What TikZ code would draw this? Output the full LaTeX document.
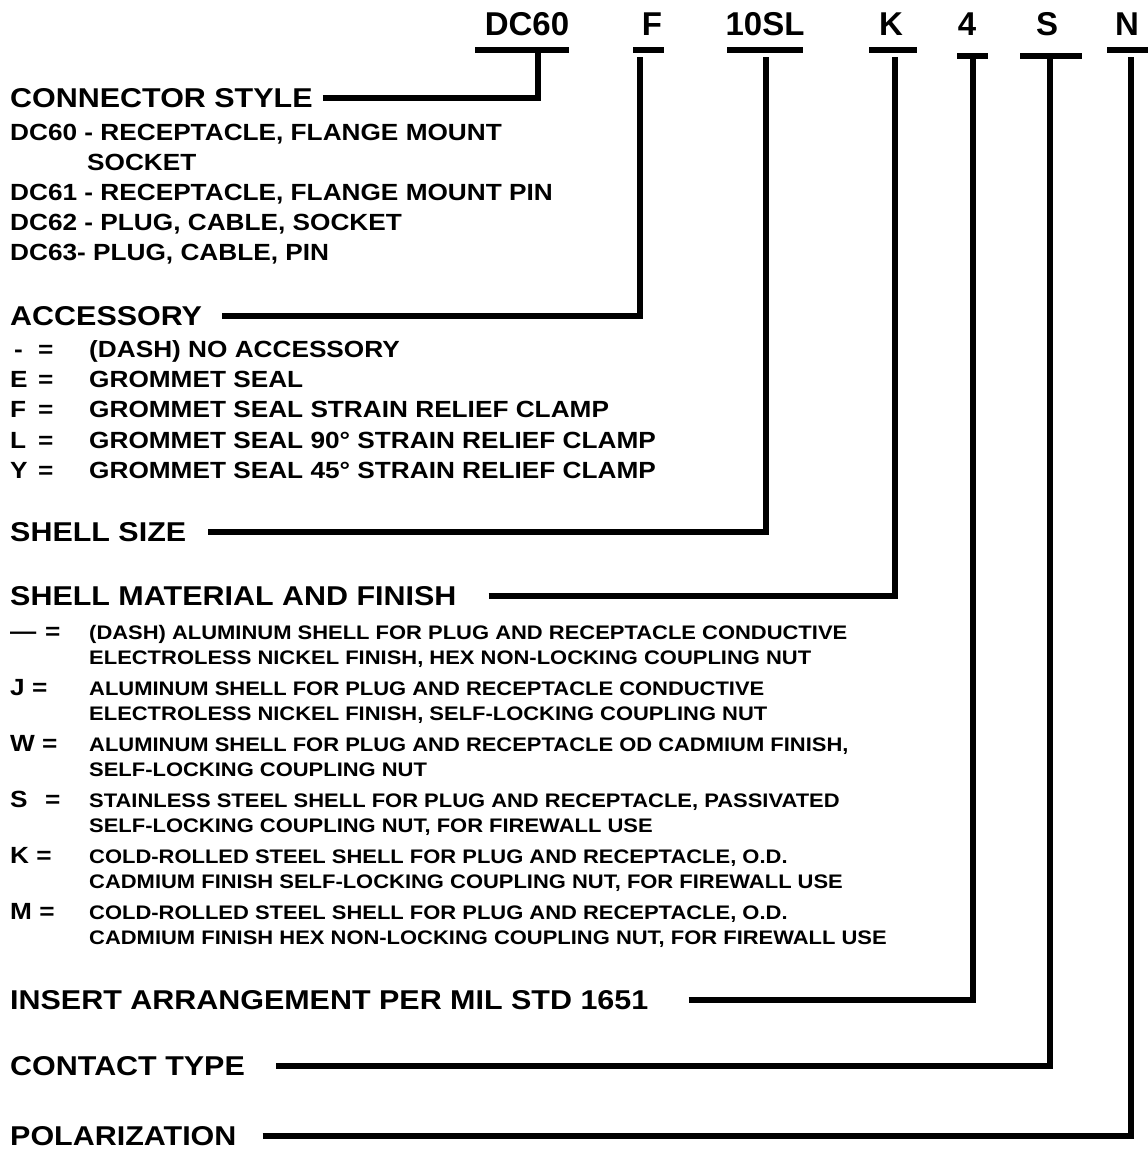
\documentclass[tikz,border=0pt]{standalone}
\usepackage{fontspec}
\setmainfont{Liberation Sans}
\newfontfamily\widefont{Liberation Sans}[FakeStretch=1.12]
\usepackage{tikz}
\usetikzlibrary{positioning}

\newcommand{\hdrsize}{\widefont\bfseries\fontsize{27.2}{27.2}\selectfont}
\newcommand{\itemsize}{\widefont\bfseries\fontsize{23.4}{23.4}\selectfont}
\newcommand{\descsize}{\widefont\bfseries\fontsize{19.6}{19.6}\selectfont}
\newcommand{\codesize}{\bfseries\fontsize{33}{33}\selectfont}

\begin{document}
\begin{tikzpicture}[x=1pt, y=-1pt,
        hdr/.style={font=\hdrsize, inner sep=0pt, anchor=west},
        item/.style={font=\itemsize, inner sep=0pt, anchor=base west},
        desc/.style={font=\descsize, inner sep=0pt, anchor=base west},
        code/.style={font=\codesize, inner sep=0pt, anchor=base},
        bar/.style={fill=black, inner sep=0pt, minimum height=6pt},
        lead/.style={line width=5.5pt}]
        \useasboundingbox (0,0) rectangle (1148,1151);

        % part number
        \node[code] (dc) at (527,35) {DC60};
        \node[code] (acc) at (652,35) {F};
        \node[code] (size) at (765,35) {10SL};
        \node[code] (mat) at (891,35) {K};
        \node[code] (ins) at (967,35) {4};
        \node[code] (cont) at (1047,35) {S};
        \node[code] (pol) at (1127,35) {N};

        \node[bar, minimum width=94pt] (dcbar) at (522,50) {};
        \node[bar, minimum width=31pt] (accbar) at (648.5,50) {};
        \node[bar, minimum width=76pt] (sizebar) at (765,50) {};
        \node[bar, minimum width=48pt] (matbar) at (893,50) {};
        \node[bar, minimum width=31pt] (insbar) at (972.5,56) {};
        \node[bar, minimum width=62pt] (contbar) at (1051,56) {};
        \node[bar, minimum width=41pt] (polbar) at (1127.5,50) {};

        \coordinate (dctap) at (538,50);
        \coordinate (acctap) at (640,57);
        \coordinate (sizetap) at (766,57);
        \coordinate (mattap) at (895,57);
        \coordinate (instap) at (973,56);
        \coordinate (conttap) at (1050,56);
        \coordinate (poltap) at (1131,57);

        % connector style
        \node[hdr] (cs) at (10,98) {CONNECTOR STYLE};
        \node[item] (cs1) at (10,140) {DC60 - RECEPTACLE, FLANGE MOUNT};
        \node[item] (cs1b) at (87,170) {SOCKET};
        \node[item] (cs2) at (10,200) {DC61 - RECEPTACLE, FLANGE MOUNT PIN};
        \node[item] (cs3) at (10,230) {DC62 - PLUG, CABLE, SOCKET};
        \node[item] (cs4) at (10,260) {DC63- PLUG, CABLE, PIN};

        % accessory
        \node[hdr] (ac) at (10,316) {ACCESSORY};
        \node[item] (ac1) at (10,357) {\makebox[28pt][l]{\,-}=};
        \node[item] (ac2) at (10,387) {\makebox[28pt][l]{E}=};
        \node[item] (ac3) at (10,417) {\makebox[28pt][l]{F}=};
        \node[item] (ac4) at (10,448) {\makebox[28pt][l]{L}=};
        \node[item] (ac5) at (10,478) {\makebox[28pt][l]{Y}=};
        \node[item] (ac1t) at (89,357) {(DASH) NO ACCESSORY};
        \node[item] (ac2t) at (89,387) {GROMMET SEAL};
        \node[item] (ac3t) at (89,417) {GROMMET SEAL STRAIN RELIEF CLAMP};
        \node[item] (ac4t) at (89,448) {GROMMET SEAL 90° STRAIN RELIEF CLAMP};
        \node[item] (ac5t) at (89,478) {GROMMET SEAL 45° STRAIN RELIEF CLAMP};

        % shell size
        \node[hdr] (ss) at (10,532) {SHELL SIZE};

        % shell material and finish
        \node[hdr] (sm) at (10,596) {SHELL MATERIAL AND FINISH};
        \node[item] (sm1) at (10,639) {\makebox[35pt][l]{—}=};
        \node[item] (sm2) at (10,695) {J =};
        \node[item] (sm3) at (10,751) {W =};
        \node[item] (sm4) at (10,807) {\makebox[35pt][l]{S}=};
        \node[item] (sm5) at (10,863) {K =};
        \node[item] (sm6) at (10,919) {M =};
        \node[desc] (sm1t) at (89,639) {(DASH) ALUMINUM SHELL FOR PLUG AND RECEPTACLE CONDUCTIVE};
        \node[desc] (sm1u) at (89,664) {ELECTROLESS NICKEL FINISH, HEX NON-LOCKING COUPLING NUT};
        \node[desc] (sm2t) at (89,695) {ALUMINUM SHELL FOR PLUG AND RECEPTACLE CONDUCTIVE};
        \node[desc] (sm2u) at (89,720) {ELECTROLESS NICKEL FINISH, SELF-LOCKING COUPLING NUT};
        \node[desc] (sm3t) at (89,751) {ALUMINUM SHELL FOR PLUG AND RECEPTACLE OD CADMIUM FINISH,};
        \node[desc] (sm3u) at (89,776) {SELF-LOCKING COUPLING NUT};
        \node[desc] (sm4t) at (89,807) {STAINLESS STEEL SHELL FOR PLUG AND RECEPTACLE, PASSIVATED};
        \node[desc] (sm4u) at (89,832) {SELF-LOCKING COUPLING NUT, FOR FIREWALL USE};
        \node[desc] (sm5t) at (89,863) {COLD-ROLLED STEEL SHELL FOR PLUG AND RECEPTACLE, O.D.};
        \node[desc] (sm5u) at (89,888) {CADMIUM FINISH SELF-LOCKING COUPLING NUT, FOR FIREWALL USE};
        \node[desc] (sm6t) at (89,919) {COLD-ROLLED STEEL SHELL FOR PLUG AND RECEPTACLE, O.D.};
        \node[desc] (sm6u) at (89,944) {CADMIUM FINISH HEX NON-LOCKING COUPLING NUT, FOR FIREWALL USE};

        % remaining fields
        \node[hdr] (ia) at (10,1000) {INSERT ARRANGEMENT PER MIL STD 1651};
        \node[hdr] (ct) at (10,1066) {CONTACT TYPE};
        \node[hdr] (po) at (10,1136) {POLARIZATION};

        % leaders
        \draw[lead] ([xshift=10pt]cs.east) -| (dctap);
        \draw[lead] ([xshift=20pt]ac.east) -| (acctap);
        \draw[lead] ([xshift=22pt]ss.east) -| (sizetap);
        \draw[lead] ([xshift=32pt]sm.east) -| (mattap);
        \draw[lead] ([xshift=40pt]ia.east) -| (instap);
        \draw[lead] ([xshift=31pt]ct.east) -| (conttap);
        \draw[lead] ([xshift=26pt]po.east) -| (poltap);
\end{tikzpicture}
\end{document}
